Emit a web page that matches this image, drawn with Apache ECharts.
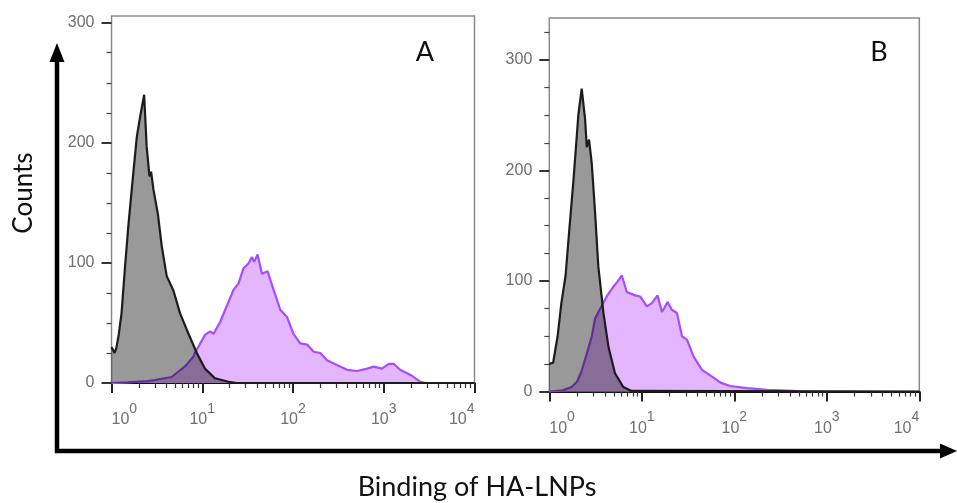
<!DOCTYPE html>
<html><head><meta charset="utf-8">
<script src="https://cdn.jsdelivr.net/npm/echarts@6/dist/echarts.min.js"></script>
<style>html,body{margin:0;padding:0;background:#fff}#c{width:957px;height:503px}</style>
</head><body><div id="c"></div>
<script>
// ---- Data (fluorescence intensity, counts) ----
const aGrayX = [1.00,1.08,1.13,1.20,1.29,1.41,1.53,1.67,1.90,2.07,2.29,2.44,2.62,2.73,2.90,3.24,3.58,4.06,4.81,5.70,7.05,8.71,10.7,13.8,19.5,24,10000];
const aGrayY = [30,25,29,40,58,97,130,161,205,222,240,197,172,176,161,141,114,89,77,58,41,25,12,4,1,0,0];
const aPurpleX = [1,1.5,2.5,3.0,4.6,6.5,8.0,8.3,10.7,12.2,13.3,15.8,18.6,22.1,25.1,28.5,32.4,35.2,37.4,40.7,45.5,52.5,61.1,72.4,85.9,101,120,143,169,200,237,305,394,508,656,776,955,1135,1288,1514,1972,2541,2884,10000];
const aPurpleY = [0,0.5,1.5,2.5,5,14,22,25,40,43,41,51,64,77.5,83,95.6,99.7,105,101,107,91,93,77.5,61,55,41,33,32,26,25,19,15,11,10,12,13.6,12,16,16,11,6.7,1,0,0];
const bGrayX = [1.0,1.10,1.23,1.35,1.50,1.64,1.82,2.06,2.24,2.44,2.54,2.69,2.88,3.13,3.39,3.85,4.37,5.13,6.31,7.76,10000];
const bGrayY = [25,26,50,80,105,145,190,250,274,246,221,228,206,161,113,71,40,16.5,4,0.5,0];
const bPurpleX = [1.0,1.4,1.74,2.0,2.2,2.5,2.88,3.13,3.5,4.17,4.93,5.4,6.08,6.89,8.47,9.59,11.35,12.85,14.8,16.5,19.0,21.1,24.0,27.2,30.8,36.3,44.7,57.5,70.8,90.4,138,226,437,500];
const bPurpleY = [0,1,4,9,17,32,50,66,74,86,95,99,105,90,87,86,77,80,87,72,81,74,71,50,47,31.5,19.5,13.4,8,5,3,1.4,0.5,0];

// ---- Ticks ----
const yMajorTicks = [0,100,200,300];
const yMinorTicksA = [25,50,75,125,150,175,225,250,275];
const yMinorTicksB = [25,50,75,125,150,175,225,250,275,325];
const xMinorTicks = [2,3,4,5,6,7,8,9,20,30,40,50,60,70,80,90,200,300,400,500,600,700,800,900,2000,3000,4000,5000,6000,7000,8000,9000];
const yMaxA = 305.6, yMaxB = 338;
const panelLetters = ['A','B'];
const yTitle = 'Counts';
const xTitle = 'Binding of HA-LNPs';

const TICK_FONT = '"Liberation Sans", Arial, sans-serif';
const TITLE_FONT = 'Lato, "Open Sans", sans-serif';
const zip = (xs, ys) => xs.map((x, i) => [x, ys[i]]);

function grid(left, top, width, height) {
  return {left, top, width, height, show: true, borderColor: '#8a8a8a', borderWidth: 1.5, backgroundColor: '#fff'};
}
function xMajor(gi, margin) {
  return {type: 'log', logBase: 10, gridIndex: gi, min: 1, max: 10000, position: 'bottom',
    axisLine: {show: true, onZero: false, lineStyle: {color: '#111', width: 2}},
    axisTick: {show: true, length: 10, lineStyle: {color: '#222', width: 2}},
    axisLabel: {show: true, margin, alignMinLabel: 'left', alignMaxLabel: 'right',
      formatter: v => '{b|10}{s|' + Math.round(Math.log10(v)) + '}',
      rich: {
        b: {fontSize: 16, color: '#707070', fontFamily: TICK_FONT, verticalAlign: 'bottom', lineHeight: 16},
        s: {fontSize: 14, color: '#707070', fontFamily: TICK_FONT, verticalAlign: 'bottom', lineHeight: 14, padding: [0, 0, 12, 0]}
      }},
    splitLine: {show: false}, minorTick: {show: false}};
}
function xMinor(gi) {
  return {type: 'value', gridIndex: gi, min: 0, max: 4, position: 'bottom',
    axisLine: {show: false, onZero: false},
    axisTick: {show: true, length: 5, customValues: xMinorTicks.map(v => Math.log10(v)), lineStyle: {color: '#333', width: 1.2}},
    axisLabel: {show: false}, splitLine: {show: false}};
}
function yMajor(gi, max) {
  return {type: 'value', gridIndex: gi, min: 0, max, position: 'left',
    axisLine: {show: false, onZero: false},
    axisTick: {show: true, length: 10, customValues: yMajorTicks, lineStyle: {color: '#333', width: 2}},
    axisLabel: {show: true, margin: 17, customValues: yMajorTicks, fontSize: 16, color: '#6e6e6e', fontFamily: TICK_FONT},
    splitLine: {show: false}};
}
function yMinor(gi, max, ticks) {
  return {type: 'value', gridIndex: gi, min: 0, max, position: 'left',
    axisLine: {show: false, onZero: false},
    axisTick: {show: true, length: 5, customValues: ticks, lineStyle: {color: '#444', width: 1.2}},
    axisLabel: {show: false}, splitLine: {show: false}};
}
function purple(xi, yi, data) {
  return {type: 'line', xAxisIndex: xi, yAxisIndex: yi, data, symbol: 'none', z: 3,
    lineStyle: {color: '#a64dff', width: 2.2}, areaStyle: {color: '#e3b6ff', opacity: 1}};
}
function gray(xi, yi, data) {
  return {type: 'line', xAxisIndex: xi, yAxisIndex: yi, data, symbol: 'none', z: 4,
    lineStyle: {color: '#1c1c1c', width: 2.2}, areaStyle: {color: 'rgba(0,0,0,0.4)', opacity: 1}};
}

const chart = echarts.init(document.getElementById('c'));
chart.setOption({
  animation: false,
  backgroundColor: '#fff',
  grid: [grid(111.5, 16, 363, 367), grid(549.3, 18, 370, 373.5)],
  xAxis: [xMajor(0, 29), xMinor(0), xMajor(1, 29), xMinor(1)],
  yAxis: [yMajor(0, yMaxA), yMinor(0, yMaxA, yMinorTicksA), yMajor(1, yMaxB), yMinor(1, yMaxB, yMinorTicksB)],
  series: [
    purple(0, 0, zip(aPurpleX, aPurpleY)),
    gray(0, 0, zip(aGrayX, aGrayY)),
    purple(2, 2, zip(bPurpleX, bPurpleY)),
    gray(2, 2, zip(bGrayX, bGrayY))
  ],
  graphic: [
    {type: 'polyline', shape: {points: [[57, 60], [57, 451], [943, 451]]}, style: {stroke: '#000', lineWidth: 4.5, fill: null, lineJoin: 'miter'}},
    {type: 'polygon', shape: {points: [[57, 43], [49.5, 62], [64.5, 62]]}, style: {fill: '#000'}},
    {type: 'polygon', shape: {points: [[957, 451], [940, 443.5], [940, 458.5]]}, style: {fill: '#000'}},
    {type: 'text', x: 24, y: 193, rotation: Math.PI / 2, style: {text: yTitle, font: '26px ' + TITLE_FONT, fill: '#111', align: 'center', verticalAlign: 'middle'}},
    {type: 'text', x: 477, y: 487, style: {text: xTitle, font: '27px ' + TITLE_FONT, fill: '#111', align: 'center', verticalAlign: 'middle'}},
    {type: 'text', x: 425, y: 52, style: {text: panelLetters[0], font: '27px ' + TITLE_FONT, fill: '#111', align: 'center', verticalAlign: 'middle'}},
    {type: 'text', x: 879, y: 52, style: {text: panelLetters[1], font: '27px ' + TITLE_FONT, fill: '#111', align: 'center', verticalAlign: 'middle'}}
  ]
});
</script></body></html>
